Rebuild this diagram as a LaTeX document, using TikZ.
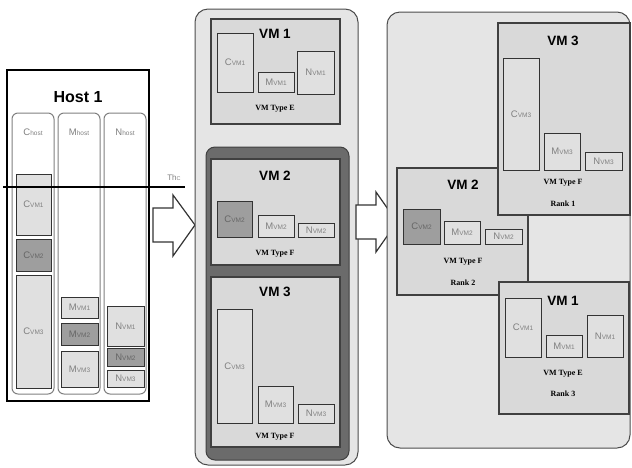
\documentclass[tikz,border=0pt]{standalone}
\usepackage{fontspec}
\setmainfont{Liberation Serif}
\setsansfont{Liberation Sans}
\newcommand{\bx}[7]{\node[#6, minimum width={(#4-#2)*1pt}, minimum height={(#5-#3)*1pt}] (#1) at ({(#2+#4)/2},{(#3+#5)/2}) {#7};}
\newcommand{\lb}[2]{#1{\fontsize{6.5}{6.5}\selectfont#2}}
\begin{document}
\begin{tikzpicture}[x=1pt,y=-1pt,
  every node/.style={inner sep=0pt, outer sep=0pt},
  hostbox/.style={draw=black, line width=1.6pt, fill=white},
  colbox/.style={draw=black!50, line width=1pt, rounded corners=6pt, fill=white},
  panelbox/.style={draw=black!70, line width=1pt, rounded corners=13pt, fill=black!10},
  grpbox/.style={draw=black!75, line width=1pt, rounded corners=9pt, fill=black!58},
  vmbox/.style={draw=black!75, line width=1.5pt, fill=black!15},
  resbox/.style={draw=black!80, line width=1pt, fill=black!12, text=black!50, font=\sffamily\fontsize{9.5}{9.5}\selectfont},
  resdark/.style={resbox, fill=black!38, text=black!60},
  vmtitle/.style={font=\sffamily\bfseries\fontsize{13.5}{13.5}\selectfont},
  typelbl/.style={font=\bfseries\fontsize{8}{8}\selectfont},
  collbl/.style={text=black!50, font=\sffamily\fontsize{9.5}{9.5}\selectfont},
  blockarrow/.style={draw=black!80, line width=1.2pt, fill=white, line join=miter}
]
\useasboundingbox (0,0) rectangle (632,467);

% ---------- Host 1 ----------
\bx{host}{7}{70}{149}{401}{hostbox}{}
\node[font=\sffamily\bfseries\fontsize{16}{16}\selectfont] (hosttitle) at (78,97) {Host 1};
\bx{colC}{12}{113}{54}{394}{colbox}{}
\bx{colM}{58}{113}{100}{394}{colbox}{}
\bx{colN}{104}{113}{146}{394}{colbox}{}
\node[collbl] (lCh) at (33,132) {\lb{C}{host}};
\node[collbl] (lMh) at (79,132) {\lb{M}{host}};
\node[collbl] (lNh) at (125,132) {\lb{N}{host}};

\bx{hC1}{16}{174}{51}{235}{resbox}{\lb{C}{VM1}}
\bx{hC2}{16}{239}{51}{271}{resdark}{\lb{C}{VM2}}
\bx{hC3}{16}{275}{51}{388}{resbox}{\lb{C}{VM3}}
\bx{hM1}{61}{297}{98}{318}{resbox}{\lb{M}{VM1}}
\bx{hM2}{61}{323}{98}{345}{resdark}{\lb{M}{VM2}}
\bx{hM3}{61}{351}{98}{387}{resbox}{\lb{M}{VM3}}
\bx{hN1}{107}{306}{144}{346}{resbox}{\lb{N}{VM1}}
\bx{hN2}{107}{348}{144}{366}{resdark}{\lb{N}{VM2}}
\bx{hN3}{107}{370}{144}{387}{resbox}{\lb{N}{VM3}}

\coordinate (thA) at (3,187);
\coordinate (thB) at (185,187);
\draw[line width=2pt] (thA) -- (thB);
\node[collbl, font=\sffamily\fontsize{8}{8}\selectfont] (thlbl) at (174,178) {Th{\fontsize{5.5}{5.5}\selectfont C}};

% ---------- arrow 1 ----------
\draw[blockarrow] (153,208) -- (173,208) -- (173,195) -- (195,225) -- (173,256) -- (173,242) -- (153,242) -- cycle;

% ---------- middle panel ----------
\bx{midpanel}{195}{9}{358}{465}{panelbox}{}
\bx{mVM1}{211}{19}{340}{124}{vmbox}{}
\node[vmtitle] (mVM1t) at (275,34) {VM 1};
\bx{mC1}{217}{33}{253}{92}{resbox}{\lb{C}{VM1}}
\bx{mM1}{258}{72}{294}{92}{resbox}{\lb{M}{VM1}}
\bx{mN1}{297}{51}{334}{94}{resbox}{\lb{N}{VM1}}
\node[typelbl] (mT1) at (275,109) {VM Type E};

\bx{grp}{206}{147}{349}{460}{grpbox}{}
\bx{mVM2}{211}{159}{340}{265}{vmbox}{}
\node[vmtitle] (mVM2t) at (275,176) {VM 2};
\bx{mC2}{217}{201}{252}{237}{resdark}{\lb{C}{VM2}}
\bx{mM2}{258}{215}{294}{237}{resbox}{\lb{M}{VM2}}
\bx{mN2}{298}{223}{334}{237}{resbox}{\lb{N}{VM2}}
\node[typelbl] (mT2) at (275,254) {VM Type F};

\bx{mVM3}{211}{277}{340}{447}{vmbox}{}
\node[vmtitle] (mVM3t) at (275,292) {VM 3};
\bx{mC3}{217}{309}{252}{423}{resbox}{\lb{C}{VM3}}
\bx{mM3}{258}{386}{293}{423}{resbox}{\lb{M}{VM3}}
\bx{mN3}{298}{404}{334}{423}{resbox}{\lb{N}{VM3}}
\node[typelbl] (mT3) at (275,437) {VM Type F};

% ---------- arrow 2 ----------
\draw[blockarrow] (356,205) -- (376,205) -- (376,192) -- (397,222) -- (376,252) -- (376,239) -- (356,239) -- cycle;

% ---------- right panel ----------
\bx{rightpanel}{387}{12}{630}{448}{panelbox}{}

\bx{rVM2}{397}{168}{528}{295}{vmbox}{}
\node[vmtitle] (rVM2t) at (463,185) {VM 2};
\bx{rC2}{403}{209}{440}{244}{resdark}{\lb{C}{VM2}}
\bx{rM2}{444}{221}{480}{244}{resbox}{\lb{M}{VM2}}
\bx{rN2}{485}{229}{522}{244}{resbox}{\lb{N}{VM2}}
\node[typelbl] (rT2) at (463,262) {VM Type F};
\node[typelbl] (rR2) at (463,283) {Rank 2};

\bx{rVM3}{498}{23}{630}{215}{vmbox}{}
\node[vmtitle] (rVM3t) at (563,41) {VM 3};
\bx{rC3}{503}{58}{539}{170}{resbox}{\lb{C}{VM3}}
\bx{rM3}{544}{133}{580}{170}{resbox}{\lb{M}{VM3}}
\bx{rN3}{585}{152}{622}{170}{resbox}{\lb{N}{VM3}}
\node[typelbl] (rT3) at (563,183) {VM Type F};
\node[typelbl] (rR3) at (563,204) {Rank 1};

\bx{rVM1}{499}{282}{629}{414}{vmbox}{}
\node[vmtitle] (rVM1t) at (563,301) {VM 1};
\bx{rC1}{505}{298}{541}{357}{resbox}{\lb{C}{VM1}}
\bx{rM1}{546}{335}{582}{357}{resbox}{\lb{M}{VM1}}
\bx{rN1}{587}{315}{623}{357}{resbox}{\lb{N}{VM1}}
\node[typelbl] (rT1) at (563,374) {VM Type E};
\node[typelbl] (rR1) at (563,394) {Rank 3};
\end{tikzpicture}
\end{document}
